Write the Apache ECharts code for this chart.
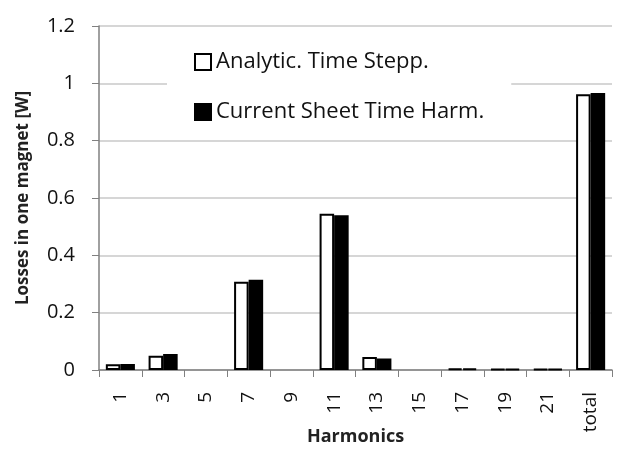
<!DOCTYPE html>
<html>
<head>
<meta charset="utf-8">
<script src="https://cdn.jsdelivr.net/npm/echarts@6/dist/echarts.min.js"></script>
<style>
html, body { margin: 0; padding: 0; background: #fff; }
#chart { width: 620px; height: 450px; }
</style>
</head>
<body>
<div id="chart"></div>
<script>
var harmonics = ['1', '3', '5', '7', '9', '11', '13', '15', '17', '19', '21', 'total']
// no bar is drawn for 5, 9 and 15
var analyticValues = [0.02, 0.05, null, 0.308, null, 0.545, 0.045, null, 0.005, 0.003, 0.003, 0.962]
var currentSheetValues = [0.021, 0.056, null, 0.315, null, 0.54, 0.04, null, 0.005, 0.003, 0.003, 0.966]
var yTicks = [0, 0.2, 0.4, 0.6, 0.8, 1, 1.2]

var font = '"Open Sans", "Liberation Sans", sans-serif'
var chart = echarts.init(document.getElementById('chart'))
chart.setOption({
  backgroundColor: '#fff',
  animation: false,
  textStyle: { fontFamily: font },
  grid: { left: 99, right: 8, top: 26, bottom: 80, containLabel: false, outerBoundsMode: 'none' },
  legend: {
    orient: 'vertical',
    left: 167,
    top: 45,
    padding: [6, 27, 6, 27],
    itemGap: 28,
    itemWidth: 16,
    itemHeight: 16,
    backgroundColor: '#fff',
    textStyle: { fontSize: 22, lineHeight: 22, color: '#111', fontFamily: font },
    data: [
      { name: 'Analytic. Time Stepp.', icon: 'rect', itemStyle: { color: '#fff', borderColor: '#000', borderWidth: 2 } },
      { name: 'Current Sheet Time Harm.', icon: 'rect', itemStyle: { color: '#000', borderColor: '#000', borderWidth: 2 } }
    ]
  },
  xAxis: {
    type: 'category',
    data: harmonics,
    name: 'Harmonics',
    nameLocation: 'middle',
    nameGap: 58,
    nameMoveOverlap: false,
    nameTextStyle: { fontSize: 18, fontWeight: 'bold', color: '#222' },
    axisLine: { lineStyle: { color: '#808080', width: 1.5 } },
    axisTick: { show: true, length: 7, lineStyle: { color: '#808080' } },
    axisLabel: { rotate: 90, fontSize: 19, color: '#111', margin: 22 }
  },
  yAxis: {
    type: 'value',
    min: yTicks[0],
    max: yTicks[yTicks.length - 1],
    interval: 0.2,
    name: 'Losses in one magnet [W]',
    nameLocation: 'middle',
    nameGap: 67,
    nameMoveOverlap: false,
    nameTextStyle: { fontSize: 17, fontWeight: 'bold', color: '#222' },
    axisLine: { show: true, lineStyle: { color: '#808080', width: 1.5 } },
    axisTick: { show: true, length: 7, lineStyle: { color: '#808080' } },
    axisLabel: { fontSize: 20, color: '#111', margin: 24 },
    splitLine: { lineStyle: { color: '#c8c8c8', width: 1.5 } }
  },
  series: [
    {
      name: 'Analytic. Time Stepp.',
      type: 'bar',
      data: analyticValues,
      barGap: '0%',
      barCategoryGap: '32%',
      itemStyle: { color: '#fff', borderColor: '#000', borderWidth: 2 }
    },
    {
      name: 'Current Sheet Time Harm.',
      type: 'bar',
      data: currentSheetValues,
      itemStyle: { color: '#000', borderColor: '#000', borderWidth: 2 }
    }
  ]
})
</script>
</body>
</html>
